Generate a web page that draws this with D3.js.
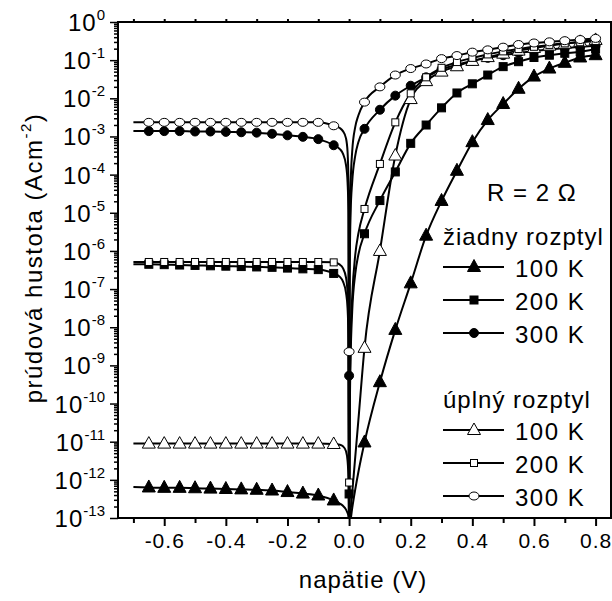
<!DOCTYPE html>
<html>
<head>
<meta charset="utf-8">
<script src="https://cdn.jsdelivr.net/npm/d3@7"></script>
<style>
  body { margin: 0; background: #fff; }
  svg text { font-family: 'Liberation Sans', Arial, sans-serif; fill: #000; }
</style>
</head>
<body>
<svg id="chart" width="612" height="601"></svg>
<script>
// series order: no scattering 100/200/300 K, then full scattering 100/200/300 K
const groupTitles = ['žiadny rozptyl', 'úplný rozptyl'];
const seriesLabels = ['100 K', '200 K', '300 K', '100 K', '200 K', '300 K'];

// voltages (V)
const vStart = -0.7;
const vRev = [-0.65, -0.6, -0.55, -0.5, -0.45, -0.4, -0.35, -0.3, -0.25, -0.2, -0.15, -0.1, -0.05];
const vBendRev = [-0.03, -0.02, -0.01, -0.005, -0.002, 0];
const vBendFwd = [0.002, 0.005, 0.01, 0.02, 0.03];
const vFwd = [0.05, 0.1, 0.15, 0.2, 0.25, 0.3, 0.35, 0.4, 0.45, 0.5, 0.55, 0.6, 0.65, 0.7, 0.75, 0.8];

// current density, log10 (A cm^-2)
const startLg = [-12.19, -6.35, -2.86, -11.05, -6.29, -2.63];
const revLg = [
  [-12.20, -12.21, -12.21, -12.22, -12.23, -12.24, -12.25, -12.26, -12.28, -12.32, -12.36, -12.41, -12.54],
  [-6.35, -6.36, -6.37, -6.38, -6.39, -6.40, -6.41, -6.42, -6.43, -6.45, -6.47, -6.49, -6.59],
  [-2.86, -2.86, -2.86, -2.87, -2.87, -2.88, -2.89, -2.90, -2.93, -2.97, -3.01, -3.07, -3.23],
  [-11.05, -11.05, -11.05, -11.05, -11.05, -11.05, -11.05, -11.05, -11.05, -11.05, -11.05, -11.05, -11.06],
  [-6.29, -6.29, -6.29, -6.29, -6.29, -6.29, -6.29, -6.29, -6.29, -6.29, -6.29, -6.29, -6.30],
  [-2.63, -2.63, -2.63, -2.63, -2.63, -2.63, -2.63, -2.63, -2.63, -2.63, -2.63, -2.63, -2.72]
];
const bendRevLg = [
  [-12.62, -12.68, -12.78, -12.87, -12.95, -13.3],
  [-6.68, -6.80, -7.10, -7.50, -8.30, -14],
  [-3.33, -3.45, -3.75, -4.20, -5.00, -14],
  [-11.08, -11.12, -11.25, -11.50, -12.00, -14],
  [-6.36, -6.45, -6.70, -7.10, -7.90, -14],
  [-2.78, -2.86, -3.05, -3.40, -4.20, -14]
];
const bendFwdLg = [
  [-13.2, -13.05, -12.75, -12.25, -11.8],
  [-10.5, -8.8, -7.6, -6.6, -6.1],
  [-6.5, -5.0, -4.2, -3.5, -3.15],
  [-13.1, -12.8, -12.35, -11.4, -10.45],
  [-10.0, -8.3, -7.2, -6.1, -5.55],
  [-6.0, -4.3, -3.4, -2.75, -2.45]
];
const fwdLg = [
  [-11.02, -9.44, -8.07, -6.85, -5.6, -4.69, -3.9, -3.15, -2.57, -2.15, -1.75, -1.43, -1.22, -1.07, -0.93, -0.87],
  [-5.55, -4.68, -3.93, -3.18, -2.7, -2.25, -1.86, -1.62, -1.39, -1.17, -1.04, -0.93, -0.87, -0.82, -0.78, -0.71],
  [-2.8, -2.3, -1.93, -1.67, -1.45, -1.24, -1.12, -1.02, -0.94, -0.87, -0.81, -0.76, -0.72, -0.68, -0.65, -0.62],
  [-8.54, -6.0, -3.5, -2.02, -1.55, -1.3, -1.16, -1.02, -0.92, -0.83, -0.75, -0.68, -0.62, -0.57, -0.52, -0.47],
  [-4.9, -3.72, -2.63, -1.87, -1.45, -1.2, -1.05, -0.94, -0.85, -0.77, -0.71, -0.65, -0.6, -0.56, -0.53, -0.5],
  [-2.1, -1.7, -1.39, -1.22, -1.1, -0.96, -0.88, -0.79, -0.73, -0.66, -0.59, -0.55, -0.52, -0.49, -0.46, -0.43]
];
// points measured right at 0 V (only some series)
const zeroLg = [null, -12.37, -9.27, null, -12.07, -8.64];

const xMajor = [-0.6, -0.4, -0.2, 0.0, 0.2, 0.4, 0.6, 0.8];
const xMinor = [-0.7, -0.5, -0.3, -0.1, 0.1, 0.3, 0.5, 0.7];
const yExponents = d3.range(0, -14, -1);

(() => {
  const svg = d3.select('#chart');
  const pLeft = 118, pRight = 611, pTop = 22, pBottom = 518;

  const x = d3.scaleLinear().domain([-0.75, 0.85]).range([pLeft, pRight]);
  const y = d3.scaleLog().domain([1e-13, 1]).range([pBottom, pTop]);

  svg.append('clipPath').attr('id', 'plot-clip')
    .append('rect')
    .attr('x', pLeft).attr('y', pTop)
    .attr('width', pRight - pLeft).attr('height', pBottom - pTop);

  // axes
  const bottomAxis = svg.append('g').attr('transform', `translate(0,${pBottom})`);
  bottomAxis.call(d3.axisBottom(x).tickValues(xMajor).tickSize(8).tickPadding(6)
    .tickFormat(d => d.toFixed(1)));
  bottomAxis.append('g').call(d3.axisBottom(x).tickValues(xMinor).tickSize(5).tickFormat(''));
  bottomAxis.selectAll('.domain').remove();
  bottomAxis.selectAll('line').attr('stroke', '#000').attr('stroke-width', 2);
  bottomAxis.selectAll('text')
    .attr('font-size', 21).attr('letter-spacing', 1)
    .attr('dy', null).attr('y', 30);

  const topAxis = svg.append('g').attr('transform', `translate(0,${pTop})`);
  topAxis.call(d3.axisTop(x).tickValues(xMajor.concat(xMinor)).tickSize(3).tickFormat(''));
  topAxis.selectAll('.domain').remove();
  topAxis.selectAll('line').attr('stroke', '#000').attr('stroke-width', 2);

  const yMinor = [];
  yExponents.slice(1).forEach(e => {
    d3.range(2, 10).forEach(m => yMinor.push(m * 10 ** e));
  });
  const leftAxis = svg.append('g').attr('transform', `translate(${pLeft},0)`);
  leftAxis.call(d3.axisLeft(y).tickValues(yExponents.map(e => 10 ** e)).tickSize(8).tickFormat(''));
  leftAxis.append('g').call(d3.axisLeft(y).tickValues(yMinor).tickSize(4).tickFormat(''));
  leftAxis.selectAll('.domain').remove();
  leftAxis.selectAll('line').attr('stroke', '#000').attr('stroke-width', 1.5);

  const yLabels = svg.append('g')
    .selectAll('text')
    .data(yExponents)
    .enter().append('text')
    .attr('x', 105)
    .attr('y', e => y(10 ** e) + 9)
    .attr('text-anchor', 'end');
  yLabels.append('tspan').attr('font-size', 24).attr('letter-spacing', 1).text('10');
  yLabels.append('tspan').attr('font-size', 15).attr('dy', -11).text(e => String(e));

  svg.append('rect')
    .attr('x', pLeft).attr('y', pTop)
    .attr('width', pRight - pLeft).attr('height', pBottom - pTop)
    .attr('fill', 'none').attr('stroke', '#000').attr('stroke-width', 2);

  // titles
  svg.append('text')
    .attr('x', 363).attr('y', 588)
    .attr('text-anchor', 'middle')
    .attr('font-size', 24).attr('letter-spacing', 1)
    .text('napätie (V)');

  const yTitle = svg.append('text')
    .attr('transform', 'translate(42,258) rotate(-90)')
    .attr('text-anchor', 'middle')
    .attr('font-size', 24).attr('letter-spacing', 1.5);
  yTitle.append('tspan').text('prúdová hustota (Acm');
  yTitle.append('tspan').attr('font-size', 15).attr('dy', -11).text('-2');
  yTitle.append('tspan').attr('dy', 11).text(')');

  // marker shapes
  function marker(sel, i) {
    const filled = i < 3;
    const kind = i % 3;
    const fill = filled ? '#000' : '#fff';
    if (kind === 0) {
      sel.append('path')
        .attr('d', filled ? 'M0,-7.5L6.5,4.5L-6.5,4.5Z' : 'M0,-7L6.5,4.5L-6.5,4.5Z')
        .attr('fill', fill).attr('stroke', '#000').attr('stroke-width', 1);
    } else if (kind === 1) {
      const s = filled ? 8 : 7;
      sel.append('rect')
        .attr('x', -s / 2).attr('y', -s / 2).attr('width', s).attr('height', s)
        .attr('fill', fill).attr('stroke', '#000').attr('stroke-width', 1);
    } else {
      sel.append('ellipse')
        .attr('rx', filled ? 4.5 : 5).attr('ry', filled ? 4.5 : 4)
        .attr('fill', fill).attr('stroke', '#000').attr('stroke-width', 1);
    }
  }

  const line = d3.line()
    .x(d => x(d[0]))
    .y(d => y(10 ** d[1]))
    .curve(d3.curveMonotoneX);

  const plot = svg.append('g').attr('clip-path', 'url(#plot-clip)');

  seriesLabels.forEach((label, i) => {
    const pts = [[vStart, startLg[i]]]
      .concat(vRev.map((v, k) => [v, revLg[i][k]]))
      .concat(vBendRev.map((v, k) => [v, bendRevLg[i][k]]))
      .concat(vBendFwd.map((v, k) => [v, bendFwdLg[i][k]]))
      .concat(vFwd.map((v, k) => [v, fwdLg[i][k]]));
    plot.append('path')
      .datum(pts)
      .attr('d', line)
      .attr('fill', 'none')
      .attr('stroke', '#000')
      .attr('stroke-width', 2);
  });

  seriesLabels.forEach((label, i) => {
    const marks = vRev.map((v, k) => [v, revLg[i][k]])
      .concat(vFwd.map((v, k) => [v, fwdLg[i][k]]));
    if (zeroLg[i] !== null) marks.push([0, zeroLg[i]]);
    plot.append('g')
      .selectAll('g')
      .data(marks)
      .enter().append('g')
      .attr('transform', d => `translate(${x(d[0])},${y(10 ** d[1])})`)
      .each(function () { marker(d3.select(this), i); });
  });

  // legend
  svg.append('text')
    .attr('x', 487).attr('y', 201)
    .attr('font-size', 24).attr('letter-spacing', 1)
    .text('R = 2 Ω');

  const groupY = [245, 408];
  groupTitles.forEach((t, g) => {
    svg.append('text')
      .attr('x', 443).attr('y', groupY[g])
      .attr('font-size', 24).attr('letter-spacing', 1)
      .text(t);
  });

  seriesLabels.forEach((label, i) => {
    const g = Math.floor(i / 3);
    const base = groupY[g] + 32 + (i % 3) * 33;
    const row = svg.append('g');
    row.append('line')
      .attr('x1', 443).attr('x2', 504)
      .attr('y1', base - 10).attr('y2', base - 10)
      .attr('stroke', '#000').attr('stroke-width', 2);
    const m = row.append('g').attr('transform', `translate(474,${base - 10})`);
    marker(m, i);
    row.append('text')
      .attr('x', 515).attr('y', base)
      .attr('font-size', 24).attr('letter-spacing', 1.5)
      .text(label);
  });
})();
</script>
</body>
</html>
